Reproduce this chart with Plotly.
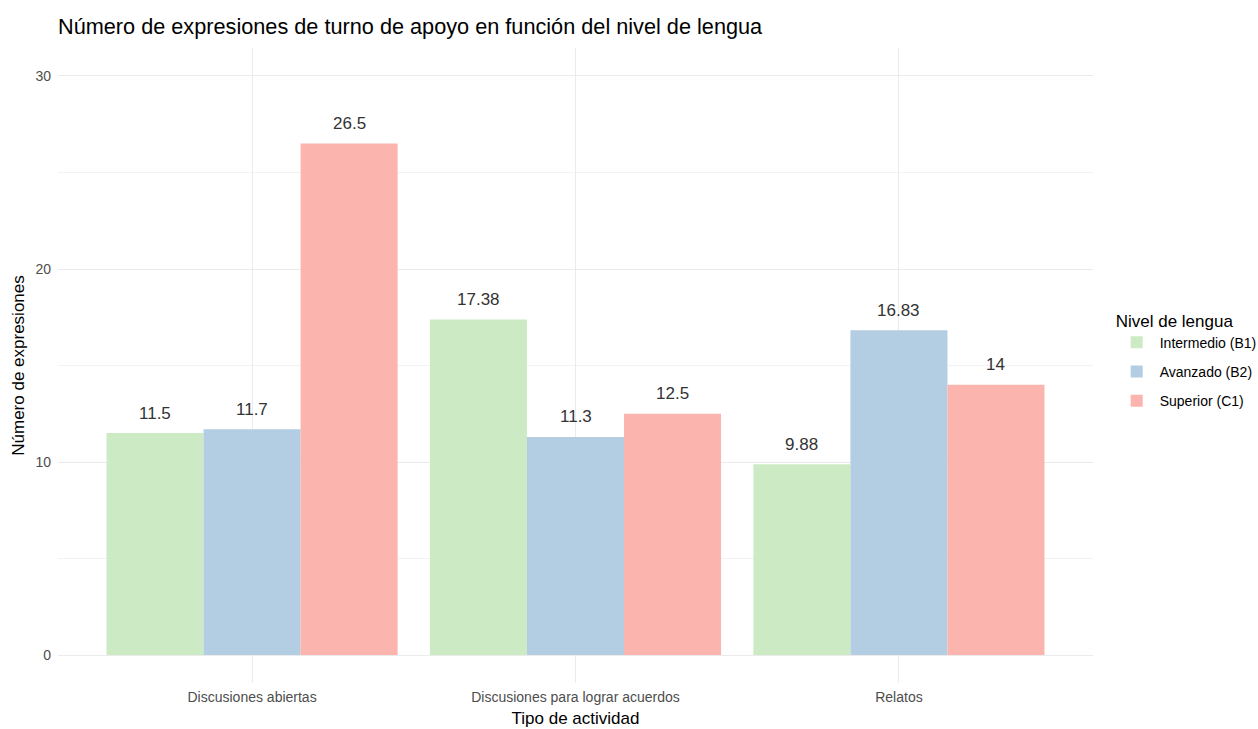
import plotly.graph_objects as go

categories = ["Discusiones abiertas", "Discusiones para lograr acuerdos", "Relatos"]
levels = ["Intermedio (B1)", "Avanzado (B2)", "Superior (C1)"]
values = {
    "Intermedio (B1)": [11.5, 17.38, 9.88],
    "Avanzado (B2)": [11.7, 11.3, 16.83],
    "Superior (C1)": [26.5, 12.5, 14],
}
labels = {
    "Intermedio (B1)": ["11.5", "17.38", "9.88"],
    "Avanzado (B2)": ["11.7", "11.3", "16.83"],
    "Superior (C1)": ["26.5", "12.5", "14"],
}
colors = {"Intermedio (B1)": "#CCEBC5", "Avanzado (B2)": "#B3CDE3", "Superior (C1)": "#FBB4AE"}

W, H = 1258, 729
ML, MR, MT, MB = 58, 165, 48, 46
plot_w = W - ML - MR

fig = go.Figure()
for lv in levels:
    fig.add_trace(go.Bar(x=categories, y=values[lv], name=lv, marker_color=colors[lv],
                         marker_line_width=0, legendgroup=lv, hoverinfo="x+y"))

bar_px = plot_w / 3.2 * 0.3
for i, lv in enumerate(levels):
    for c, v, t in zip(categories, values[lv], labels[lv]):
        fig.add_annotation(x=c, y=v, text=t, showarrow=False, xshift=(i - 1) * bar_px,
                           yshift=20, yanchor="middle",
                           font=dict(family="Liberation Sans, Arial", size=17, color="#333333"))

fig.update_layout(
    width=W, height=H,
    margin=dict(l=ML, r=MR, t=MT, b=MB, autoexpand=False),
    paper_bgcolor="white", plot_bgcolor="white",
    barmode="group", bargap=0.1, bargroupgap=0,
    font=dict(family="Liberation Sans, Arial", color="#000000"),
    title=dict(text="Número de expresiones de turno de apoyo en función del nivel de lengua",
               x=58 / W, xanchor="left", y=1 - 26 / H, yanchor="middle",
               font=dict(size=21.7, color="#000000")),
    legend=dict(title=dict(text="Nivel de lengua", font=dict(size=17)),
                x=1.02, xanchor="left", y=0.596, yanchor="top",
                font=dict(size=14, color="#000000"), itemwidth=36, tracegroupgap=8),
    xaxis=dict(range=[-0.6, 2.6], showgrid=True, gridcolor="#EBEBEB", gridwidth=1,
               showline=False, ticks="", tickfont=dict(size=14, color="#4D4D4D"),
               ticklabelstandoff=4,
               title=dict(text="Tipo de actividad", font=dict(size=17), standoff=8)),
    yaxis=dict(range=[-1.45, 31.45], tickvals=[0, 10, 20, 30], showgrid=True,
               gridcolor="#EBEBEB", gridwidth=1, zeroline=False, showline=False, ticks="",
               tickfont=dict(size=14, color="#4D4D4D"), ticklabelstandoff=6,
               minor=dict(tickvals=[5, 15, 25], showgrid=True, gridcolor="#F2F2F2", gridwidth=1),
               title=dict(text="Número de expresiones", font=dict(size=17), standoff=6)),
)

fig.write_html("out.html")
